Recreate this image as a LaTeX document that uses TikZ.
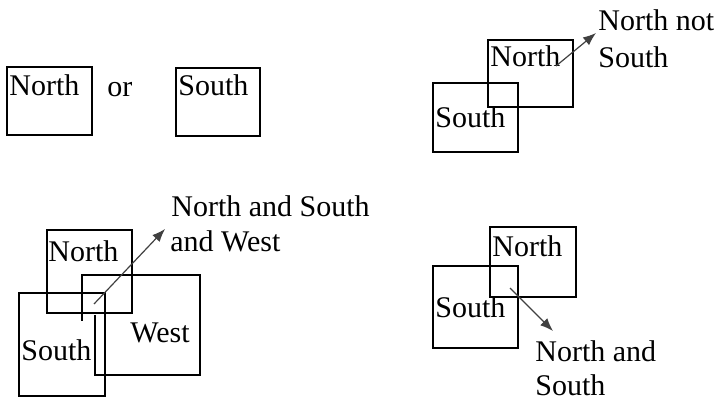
\documentclass[tikz,border=0pt]{standalone}
\usepackage{fontspec}
\setmainfont{Liberation Serif}
\usetikzlibrary{arrows.meta,fit}
\begin{document}
\begin{tikzpicture}[x=0.5pt,y=-0.5pt,
  boxst/.style={draw, line width=0.8pt, inner sep=0pt},
  edge/.style={line width=0.8pt},
  lbl/.style={anchor=base west, inner sep=0pt, font=\fontsize{15}{18}\selectfont},
  arr/.style={line width=0.6pt, black!75, -{Latex[length=6.5pt,width=5pt]}}]
\useasboundingbox (0,0) rectangle (717,400);
% --- top left
\node[boxst, fit={(7,67) (92,135)}] (tlN) {};
\node[boxst, fit={(176,68) (260,136)}] (tlS) {};
\node[lbl] (tlNt) at (9,96) {North};
\node[lbl] (tlor) at (107,97) {or};
\node[lbl] (tlSt) at (178,96) {South};
% --- top right
\node[boxst, fit={(488,40) (573,107)}] (trN) {};
\node[boxst, fit={(433,83) (518,152)}] (trS) {};
\node[lbl] (trNt) at (490,67) {North};
\node[lbl] (trSt) at (435,128) {South};
\node[lbl] (trL1) at (598,31) {North not};
\node[lbl] (trL2) at (598,68) {South};
\coordinate (trA) at (556,66);
\coordinate (trB) at (596,33);
\draw[arr] (trA) -- (trB);
% --- bottom left
\node[boxst, fit={(47,230) (132,313)}] (blN) {};
\node[boxst, fit={(19,293) (105,396)}] (blS) {};
\coordinate (w1) at (95,315);
\coordinate (w2) at (95,375);
\coordinate (w3) at (200,375);
\coordinate (w4) at (200,275);
\coordinate (w5) at (82,275);
\coordinate (w6) at (82,321);
\draw[edge] (w1) -- (w2) -- (w3) -- (w4) -- (w5) -- (w6);
\node[lbl] (blNt) at (48,262) {North};
\node[lbl] (blSt) at (21,361) {South};
\node[lbl] (blWt) at (130,343) {West};
\node[lbl] (blL1) at (171,217) {North and South};
\node[lbl] (blL2) at (170,252) {and West};
\coordinate (blA) at (94,304);
\coordinate (blB) at (165,229);
\draw[arr] (blA) -- (blB);
% --- bottom right
\node[boxst, fit={(490,227) (576,297)}] (brN) {};
\node[boxst, fit={(433,266) (518,348)}] (brS) {};
\node[lbl] (brNt) at (492,257) {North};
\node[lbl] (brSt) at (435,318) {South};
\node[lbl] (brL1) at (535,362) {North and};
\node[lbl] (brL2) at (535,395) {South};
\coordinate (brA) at (510,288);
\coordinate (brB) at (553,331);
\draw[arr] (brA) -- (brB);
\end{tikzpicture}
\end{document}
